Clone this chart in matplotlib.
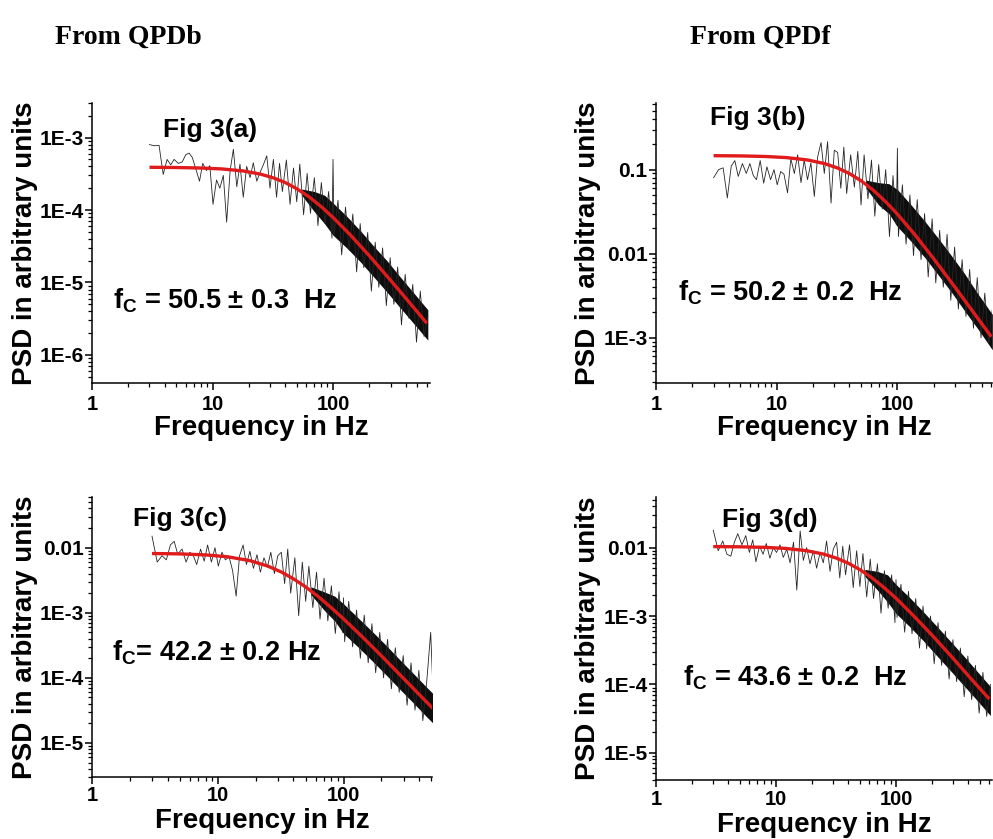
import matplotlib
matplotlib.use("Agg")
import matplotlib.pyplot as plt
from matplotlib.ticker import FixedLocator, LogLocator, NullFormatter

plt.rcParams['font.family'] = ['Liberation Sans', 'DejaVu Sans']
plt.rcParams['font.weight'] = 'bold'
plt.rcParams['mathtext.fontset'] = 'custom'
plt.rcParams['mathtext.rm'] = 'Liberation Sans:bold'
plt.rcParams['mathtext.it'] = 'Liberation Sans:bold'
plt.rcParams['mathtext.bf'] = 'Liberation Sans:bold'

# frequencies of the read-off PSD trace (Hz)
freq = [3.0, 3.3, 3.6, 3.9, 4.2, 4.5, 4.8, 5.2, 5.6, 6.0,
        6.4, 6.8, 7.3, 7.8, 8.3, 8.9, 9.5, 10.1, 10.8, 11.5,
        12.3, 13.1, 14.0, 14.9, 15.9, 16.9, 18.0, 19.2, 20.5, 21.8,
        23.3, 24.8, 26.4, 28.2, 30.0,
        32, 34, 36, 38, 41, 44, 47, 50, 53, 57,
        61, 65, 70, 75, 80, 86, 92, 98, 100, 102,
        110, 118, 127, 136, 146, 157, 168, 180, 194, 208,
        224, 240, 258, 277, 298, 320, 344, 370, 397, 427,
        459, 493, 530, 570, 612]

psd_a = [8.0e-4, 7.7e-4, 7.8e-4, 3.1e-4, 5.0e-4, 4.2e-4, 5.0e-4, 4.4e-4, 4.6e-4, 5.8e-4,
         6.1e-4, 5.3e-4, 3.6e-4, 2.5e-4, 4.4e-4, 3.5e-4, 4.1e-4, 1.2e-4, 2.6e-4, 2.0e-4,
         3.0e-4, 6.8e-5, 3.5e-4, 6.9e-4, 2.1e-4, 4.3e-4, 1.5e-4, 4.0e-4, 2.8e-4, 4.5e-4,
         2.5e-4, 3.3e-4, 4.2e-4, 5.6e-4, 2.0e-4,
         5.0e-4, 1.5e-4, 4.4e-4, 1.8e-4, 4.9e-4, 1.2e-4, 3.8e-4, 1.3e-4, 4.3e-4, 8.6e-5,
         3.2e-4, 9.0e-5, 2.8e-4, 6.1e-5, 2.4e-4, 6.5e-5, 1.8e-4, 4.1e-5, 5.0e-4, 4.5e-5,
         1.36e-4, 2.4e-5, 1.1e-4, 2.8e-5, 8.8e-5, 1.4e-5, 6.5e-5, 1.6e-5, 4.9e-5, 7.6e-6,
         3.6e-5, 8.6e-6, 3.0e-5, 4.8e-6, 2.2e-5, 5.0e-6, 1.64e-5, 2.6e-6, 1.3e-5, 3.2e-6,
         9.4e-6, 1.5e-6, 7.6e-6, 1.8e-6, 3.4e-6]

psd_b = [0.080, 0.100, 0.105, 0.046, 0.110, 0.128, 0.083, 0.118, 0.090, 0.118,
         0.085, 0.076, 0.128, 0.069, 0.108, 0.076, 0.100, 0.066, 0.095, 0.088,
         0.053, 0.135, 0.090, 0.150, 0.070, 0.130, 0.076, 0.120, 0.048, 0.140,
         0.210, 0.090, 0.215, 0.040, 0.170,
         0.160, 0.060, 0.185, 0.052, 0.150, 0.062, 0.165, 0.038, 0.150, 0.045,
         0.130, 0.028, 0.115, 0.034, 0.100, 0.016, 0.085, 0.022, 0.180, 0.016,
         0.066, 0.013, 0.050, 0.0095, 0.044, 0.0085, 0.030, 0.0053, 0.026, 0.0045,
         0.019, 0.0040, 0.017, 0.0028, 0.012, 0.0022, 0.0085, 0.0018, 0.0065, 0.0013,
         0.0052, 0.0010, 0.0034, 0.00085, 0.0022]

psd_c = [0.0150, 0.0060, 0.0075, 0.0065, 0.0110, 0.0125, 0.0080, 0.0095, 0.0060, 0.0085,
         0.0075, 0.0055, 0.0095, 0.0062, 0.0110, 0.0060, 0.0100, 0.0052, 0.0085, 0.0065,
         0.0072, 0.0045, 0.0018, 0.0075, 0.0110, 0.0055, 0.0088, 0.0048, 0.0078, 0.0042,
         0.0070, 0.0050, 0.0085, 0.0040, 0.0075,
         0.0085, 0.0028, 0.0095, 0.0020, 0.0070, 0.0009, 0.0060, 0.0015, 0.0052, 0.0012,
         0.0042, 0.0008, 0.0034, 0.00075, 0.0026, 0.00048, 0.0021, 0.00050, 0.0017, 0.00036,
         0.0015, 0.00030, 0.0011, 0.00020, 0.00092, 0.00017, 0.00068, 0.00012, 0.00050, 0.000100,
         0.00039, 0.000068, 0.00029, 0.000060, 0.00022, 0.000038, 0.00017, 0.000032, 0.00013, 0.000022,
         0.000090, 0.00050, 0.000015, 0.00006, 0.00001]

psd_d = [0.0180, 0.0090, 0.0125, 0.0080, 0.0075, 0.0120, 0.0160, 0.0110, 0.0150, 0.0085,
         0.0130, 0.0062, 0.0105, 0.0080, 0.0115, 0.0070, 0.0100, 0.0085, 0.0110, 0.0072,
         0.0095, 0.0060, 0.0120, 0.0024, 0.0175, 0.0065, 0.0100, 0.0058, 0.0090, 0.0050,
         0.0085, 0.0060, 0.0125, 0.0045, 0.0095,
         0.0120, 0.0036, 0.0105, 0.0040, 0.0110, 0.0026, 0.0090, 0.0027, 0.0082, 0.0019,
         0.0068, 0.0018, 0.0058, 0.0011, 0.0046, 0.0013, 0.0040, 0.00080, 0.0034, 0.00095,
         0.0029, 0.00058, 0.0023, 0.00055, 0.0018, 0.00034, 0.0014, 0.00033, 0.0010, 0.00020,
         0.00080, 0.00019, 0.00060, 0.00012, 0.00045, 0.000110, 0.00034, 0.000066, 0.00026, 0.000060,
         0.00019, 0.000038, 0.00015, 0.000034, 0.00010]

# dense part of the spectrum: lower / upper edge of the black band
band_f = [55, 70, 85, 100, 130, 170, 220, 280, 360, 460, 612]
band_lo_a = [1.6e-4, 9.5e-5, 6.5e-5, 4.5e-5, 3.0e-5, 1.9e-5, 1.17e-5, 7.4e-6, 4.5e-6, 2.8e-6, 1.6e-6]
band_hi_a = [1.95e-4, 1.8e-4, 1.6e-4, 1.25e-4, 8.2e-5, 5.1e-5, 3.1e-5, 2.0e-5, 1.2e-5, 7.4e-6, 4.2e-6]
band_lo_b = [0.060, 0.038, 0.030, 0.021, 0.014, 0.0089, 0.0055, 0.0035, 0.0021, 0.0013, 0.00072]
band_hi_b = [0.075, 0.070, 0.068, 0.058, 0.038, 0.024, 0.0150, 0.0095, 0.0058, 0.0034, 0.0019]
band_lo_c = [0.0019, 0.0011, 7.5e-4, 4.8e-4, 3.0e-4, 1.8e-4, 1.09e-4, 6.7e-5, 4.1e-5, 2.5e-5, 1.44e-5]
band_hi_c = [0.0025, 0.0021, 0.0018, 0.00137, 8.4e-4, 5.1e-4, 3.1e-4, 1.9e-4, 1.16e-4, 7.1e-5, 4.1e-5]
band_lo_d = [0.0038, 0.0024, 0.0016, 0.00109, 7.0e-4, 4.3e-4, 2.6e-4, 1.64e-4, 1.0e-4, 6.2e-5, 3.5e-5]
band_hi_d = [0.0048, 0.0045, 0.0040, 0.0029, 0.00186, 0.00114, 7.0e-4, 4.4e-4, 2.7e-4, 1.65e-4, 9.3e-5]

# red Lorentzian fit
fit_f = [3, 5, 8, 12, 18, 25, 32, 40, 50, 63, 80, 100, 140, 200, 300, 420, 600]
fit_a = [3.89e-4, 3.86e-4, 3.80e-4, 3.69e-4, 3.46e-4, 3.13e-4, 2.78e-4, 2.40e-4, 1.97e-4,
         1.53e-4, 1.11e-4, 7.9e-5, 4.49e-5, 2.34e-5, 1.075e-5, 5.56e-6, 2.74e-6]
fit_b = [0.1465, 0.1456, 0.1434, 0.1391, 0.1303, 0.1178, 0.1045, 0.0899, 0.0738,
         0.0571, 0.0415, 0.0296, 0.01675, 0.00871, 0.00400, 0.00207, 0.00103]
fit_c = [0.00813, 0.00802, 0.00774, 0.00724, 0.00632, 0.00521, 0.00423, 0.00332, 0.00249,
         0.00177, 0.00119, 8.05e-4, 4.32e-4, 2.18e-4, 9.8e-5, 5.03e-5, 2.5e-5]
fit_d = [0.01036, 0.01028, 0.01010, 0.00974, 0.00902, 0.00803, 0.00701, 0.00592, 0.00477,
         0.00362, 0.00258, 0.00182, 0.00101, 5.23e-4, 2.39e-4, 1.22e-4, 6.1e-5]

fig_labels = ["Fig 3(a)", "Fig 3(b)", "Fig 3(c)", "Fig 3(d)"]
fc_labels = [r"f$_\mathrm{C}$ = 50.5 ± 0.3  Hz", r"f$_\mathrm{C}$ = 50.2 ± 0.2  Hz",
             r"f$_\mathrm{C}$= 42.2 ± 0.2 Hz", r"f$_\mathrm{C}$ = 43.6 ± 0.2  Hz"]
ytick_vals = [[1e-6, 1e-5, 1e-4, 1e-3], [1e-3, 1e-2, 1e-1],
              [1e-5, 1e-4, 1e-3, 1e-2], [1e-5, 1e-4, 1e-3, 1e-2]]
ytick_text = [["1E-6", "1E-5", "1E-4", "1E-3"], ["1E-3", "0.01", "0.1"],
              ["1E-5", "1E-4", "1E-3", "0.01"], ["1E-5", "1E-4", "1E-3", "0.01"]]
xticks = [1, 10, 100]
xtick_text = ["1", "10", "100"]
titles = ["From QPDb", "From QPDf"]

W, H = 993, 839
fig = plt.figure(figsize=(W / 100, H / 100), dpi=100)

def fx(x):
    return x / W

def fy(y):
    return 1 - y / H

# layout in pixels: left, top, right, bottom of each plotting box
boxes = [(92, 103, 430, 383), (656, 103, 992, 383), (92, 497, 432, 777), (656, 497, 992, 780)]
xlims = [(1, 638), (1, 608), (1, 505), (1, 631)]
ylims = [(4.1e-7, 3.0e-3), (2.9e-4, 0.62), (3.0e-6, 0.06), (4.0e-6, 0.055)]
fig_pos = [(163, 130), (710, 118), (133, 519), (722, 520)]
fc_pos = [(113, 301), (678, 293), (112, 653), (683, 678)]
xlab_y = [428, 428, 821, 825]
ylab_x = [25, 588, 25, 588]
xtick_pad = [4, 4, 1.5, 2]

data = [(psd_a, band_lo_a, band_hi_a, fit_a), (psd_b, band_lo_b, band_hi_b, fit_b),
        (psd_c, band_lo_c, band_hi_c, fit_c), (psd_d, band_lo_d, band_hi_d, fit_d)]

for i, (psd, lo, hi, fit) in enumerate(data):
    l, t, r, b = boxes[i]
    ax = fig.add_axes([fx(l), fy(b), (r - l) / W, (b - t) / H])
    ax.set_xscale('log')
    ax.set_yscale('log')

    ax.fill_between(band_f, lo, hi, color='#0d0d0d', lw=0, zorder=2)
    ax.plot(freq, psd, color='#262626', lw=0.6, zorder=3)
    ax.plot(fit_f, fit, color='#e01b1b', lw=2.4, zorder=4, solid_capstyle='butt')

    ax.set_xlim(*xlims[i])
    ax.set_ylim(*ylims[i])
    for s in ['top', 'right']:
        ax.spines[s].set_visible(False)
    for s in ['left', 'bottom']:
        ax.spines[s].set_linewidth(1.1)

    ax.xaxis.set_major_locator(FixedLocator(xticks))
    ax.set_xticklabels(xtick_text)
    ax.yaxis.set_major_locator(FixedLocator(ytick_vals[i]))
    ax.set_yticklabels(ytick_text[i])
    for axis in [ax.xaxis, ax.yaxis]:
        axis.set_minor_locator(LogLocator(base=10, subs=range(2, 10), numticks=20))
        axis.set_minor_formatter(NullFormatter())
    ax.tick_params(which='major', direction='out', length=5, width=1.1)
    ax.tick_params(which='minor', direction='out', length=3, width=0.9)
    ax.tick_params(axis='y', pad=1, labelsize=15)
    ax.tick_params(axis='x', pad=xtick_pad[i], labelsize=14.5)
    for lab in ax.get_xticklabels() + ax.get_yticklabels():
        lab.set_fontweight('bold')

    fig.text(fx(fig_pos[i][0]), fy(fig_pos[i][1]), fig_labels[i], fontsize=19,
             fontweight='bold', ha='left', va='center')
    fig.text(fx(fc_pos[i][0]), fy(fc_pos[i][1]), fc_labels[i], fontsize=19.5,
             fontweight='bold', ha='left', va='center')
    fig.text(fx((l + r) / 2), fy(xlab_y[i]), "Frequency in Hz", fontsize=20,
             fontweight='bold', ha='center', va='center')
    fig.text(fx(ylab_x[i]), fy((t + b) / 2), "PSD in arbitrary units", fontsize=20,
             fontweight='bold', ha='center', va='center', rotation=90)

fig.text(fx(55), fy(37), titles[0], fontsize=20, fontweight='bold',
         family='Liberation Serif', ha='left', va='center')
fig.text(fx(690), fy(37), titles[1], fontsize=20, fontweight='bold',
         family='Liberation Serif', ha='left', va='center')

fig.savefig("out.png", dpi=100)
